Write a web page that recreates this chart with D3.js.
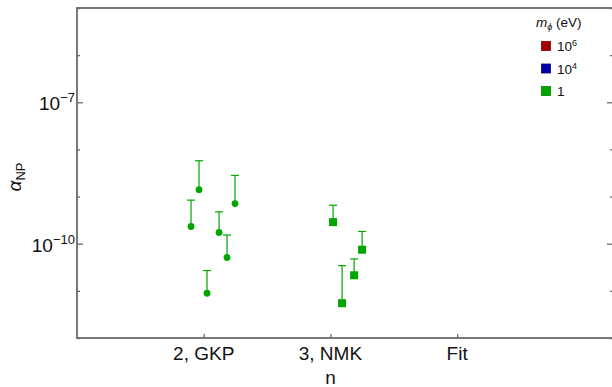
<!DOCTYPE html>
<html>
<head>
<meta charset="utf-8">
<script src="https://cdn.jsdelivr.net/npm/d3@7"></script>
<style>
  body { margin: 0; background: #fff; }
  svg text { font-family: "Liberation Sans", Arial, sans-serif; fill: #111; }
</style>
</head>
<body>
<div id="chart"></div>
<script>
// data
var categories = ["2, GKP", "3, NMK", "Fit"];
var massLabels = ["6", "4", ""];          // 10^6, 10^4, 1 eV
var massColors = ["#a50000", "#0000a5", "#00a500"];

// n = 2, GKP (circles): x position, central value, upper end of bar
var gkpX = [0.900, 0.963, 1.026, 1.121, 1.184, 1.247];
var gkpAlpha = [2.32e-10, 1.40e-9, 8.9e-12, 1.73e-10, 5.1e-11, 7.1e-10];
var gkpUpper = [8.4e-10, 5.75e-9, 2.7e-11, 4.74e-10, 1.53e-10, 2.82e-9];

// n = 3, NMK (squares)
var nmkX = [2.021, 2.092, 2.187, 2.250];
var nmkAlpha = [2.87e-10, 5.47e-12, 2.14e-11, 7.46e-11];
var nmkUpper = [6.56e-10, 3.43e-11, 4.75e-11, 1.82e-10];

var yMajor = [1e-10, 1e-7];
var yMinor = [1e-12, 1e-11, 1e-9, 1e-8, 1e-6, 1e-5];

function makeChart() {
    var svgWidth = 612, svgHeight = 387;
    var plotLeft = 77, plotRight = 613, plotTop = 8, plotBottom = 338;

    var svg = d3.select("#chart").append("svg")
        .attr("width", svgWidth)
        .attr("height", svgHeight);

    var x = d3.scaleLinear().domain([0, 4.23]).range([plotLeft, plotRight]);
    var y = d3.scaleLog().domain([1e-12, 1e-5]).range([plotBottom, plotTop]);

    var frameColor = "#6b6b6b";

    // ticks (inward)
    function yTicks(values, len) {
        svg.append("g")
            .attr("transform", `translate(${plotLeft},0)`)
            .call(d3.axisLeft(y).tickValues(values).tickSize(-len).tickFormat(""))
            .call(g => g.select(".domain").remove())
            .selectAll("line").attr("stroke", frameColor).attr("stroke-width", 1.3);
        svg.append("g")
            .attr("transform", `translate(${plotRight},0)`)
            .call(d3.axisRight(y).tickValues(values).tickSize(-len).tickFormat(""))
            .call(g => g.select(".domain").remove())
            .selectAll("line").attr("stroke", frameColor).attr("stroke-width", 1.3);
    }
    yTicks(yMajor, 6);
    yTicks(yMinor, 3);

    svg.append("g")
        .attr("transform", `translate(0,${plotBottom})`)
        .call(d3.axisBottom(x).tickValues([1, 2, 3]).tickSize(-4).tickFormat(""))
        .call(g => g.select(".domain").remove())
        .selectAll("line").attr("stroke", frameColor).attr("stroke-width", 1.3);

    // frame
    svg.append("rect")
        .attr("x", plotLeft).attr("y", plotTop)
        .attr("width", plotRight - plotLeft).attr("height", plotBottom - plotTop)
        .attr("fill", "none")
        .attr("stroke", frameColor)
        .attr("stroke-width", 1.8);

    // y tick labels 10^-7, 10^-10
    yMajor.forEach(function (v) {
        var t = svg.append("text")
            .attr("x", plotLeft - 2)
            .attr("y", y(v) + 8)
            .attr("text-anchor", "end")
            .style("font-size", "19px");
        t.append("tspan").text("10");
        t.append("tspan").attr("dy", -8).style("font-size", "13px")
            .text("\u2212" + Math.round(-Math.log10(v)));
    });

    // x tick labels
    svg.selectAll(".xlab")
        .data(categories)
        .enter().append("text")
        .attr("x", (d, i) => x(i + 1))
        .attr("y", plotBottom + 22)
        .attr("text-anchor", "middle")
        .style("font-size", "19px")
        .text(d => d);

    // axis titles
    svg.append("text")
        .attr("x", x(2))
        .attr("y", 384)
        .attr("text-anchor", "middle")
        .style("font-size", "19px")
        .text("n");

    var ylab = svg.append("text")
        .attr("transform", `translate(21,${(plotTop + plotBottom) / 2 + 4}) rotate(-90)`)
        .attr("text-anchor", "middle")
        .style("font-size", "19px");
    ylab.append("tspan").style("font-style", "italic").text("\u03b1");
    ylab.append("tspan").attr("dy", 4).style("font-size", "13px").text("NP");

    // error bars + markers
    var green = massColors[2];
    var gkp = gkpX.map((d, i) => ({ x: d, v: gkpAlpha[i], hi: gkpUpper[i] }));
    var nmk = nmkX.map((d, i) => ({ x: d, v: nmkAlpha[i], hi: nmkUpper[i] }));

    function bars(data) {
        var g = svg.append("g").attr("stroke", green).attr("stroke-width", 1.2);
        g.selectAll(".bar").data(data).enter().append("line")
            .attr("x1", d => x(d.x)).attr("x2", d => x(d.x))
            .attr("y1", d => y(d.v)).attr("y2", d => y(d.hi));
        g.selectAll(".cap").data(data).enter().append("line")
            .attr("x1", d => x(d.x) - 4).attr("x2", d => x(d.x) + 4)
            .attr("y1", d => y(d.hi)).attr("y2", d => y(d.hi));
    }
    bars(gkp);
    bars(nmk);

    svg.selectAll(".dot").data(gkp).enter().append("circle")
        .attr("cx", d => x(d.x))
        .attr("cy", d => y(d.v))
        .attr("r", 3.4)
        .attr("fill", green);

    svg.selectAll(".sq").data(nmk).enter().append("rect")
        .attr("x", d => x(d.x) - 4)
        .attr("y", d => y(d.v) - 4)
        .attr("width", 8).attr("height", 8)
        .attr("fill", green);

    // legend
    var legend = svg.append("g").attr("transform", "translate(536,27)");
    var lt = legend.append("text").style("font-size", "13.5px");
    lt.append("tspan").style("font-style", "italic").text("m");
    lt.append("tspan").attr("dy", 3).style("font-size", "9px").style("font-style", "italic").text("\u03d5");
    lt.append("tspan").attr("dy", -3).text(" (eV)");

    massLabels.forEach(function (m, i) {
        var yy = 19 + i * 22.5;
        legend.append("rect")
            .attr("x", 5.5).attr("y", yy - 4.5)
            .attr("width", 9).attr("height", 9)
            .attr("fill", massColors[i])
            .attr("stroke", d3.color(massColors[i]).darker(0.6))
            .attr("stroke-width", 0.8);
        var t = legend.append("text")
            .attr("x", 21).attr("y", yy + 5)
            .style("font-size", "13.5px");
        if (m) {
            t.append("tspan").text("10");
            t.append("tspan").attr("dy", -5).style("font-size", "9px").text(m);
        } else {
            t.text("1");
        }
    });
}
makeChart();
</script>
</body>
</html>
